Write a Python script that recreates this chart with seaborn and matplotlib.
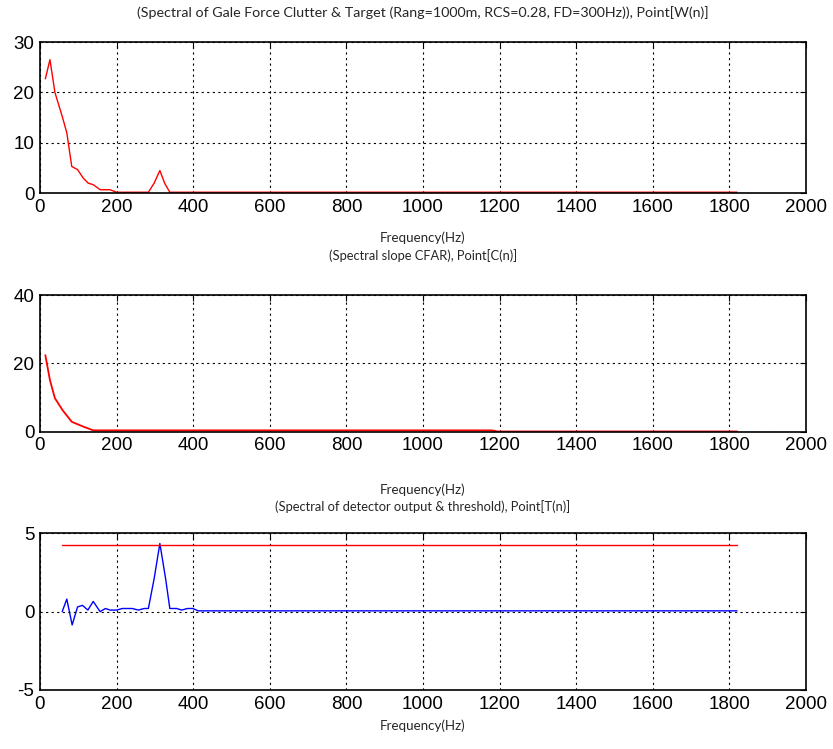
import numpy as np
import pandas as pd
import seaborn as sns
import matplotlib.pyplot as plt

# ---------------------------------------------------------------------------
# Dades llegides del gràfic
# ---------------------------------------------------------------------------
# Panell 1: espectre clutter + blanc W(n)
w_freq = [14, 26, 39, 59, 70, 83, 98, 113, 126, 139, 157, 183, 200, 283, 298, 313, 326, 339, 1820]
w_val = [22.7, 26.5, 20.0, 15.0, 12.0, 5.3, 4.7, 3.0, 2.0, 1.7, 0.7, 0.7, 0.2, 0.2, 2.0, 4.5, 1.9, 0.2, 0.2]

# Panell 2: CFAR de pendent espectral C(n)
c_freq = [14, 26, 39, 59, 83, 113, 139, 1180, 1195, 1820]
c_val = [22.4, 15.1, 9.8, 6.3, 2.9, 1.5, 0.4, 0.4, 0.08, 0.08]

# Panell 3: sortida del detector T(n) i llindar
t_freq = [58, 70, 84, 98, 111, 125, 139, 157, 171, 183, 200, 215, 241, 257, 272, 283,
          298, 313, 328, 339, 357, 370, 385, 399, 413, 1820]
t_val = [0.0, 0.8, -0.85, 0.3, 0.4, 0.1, 0.65, 0.0, 0.2, 0.1, 0.1, 0.2, 0.2, 0.1, 0.2, 0.2,
         2.1, 4.35, 2.1, 0.2, 0.2, 0.1, 0.2, 0.2, 0.05, 0.05]
thr_freq = [58, 1820]
thr_val = [4.26, 4.26]

titles = [
    "(Spectral of Gale Force Clutter & Target (Rang=1000m, RCS=0.28, FD=300Hz)), Point[W(n)]",
    "(Spectral slope CFAR), Point[C(n)]",
    "(Spectral of detector output & threshold), Point[T(n)]",
]
xlabel = "Frequency(Hz)"
x_ticks = [0, 200, 400, 600, 800, 1000, 1200, 1400, 1600, 1800, 2000]
y_ticks = [[0, 10, 20, 30], [0, 20, 40], [-5, 0, 5]]
y_lims = [(0, 30), (0, 40), (-5, 5)]

# ---------------------------------------------------------------------------
# Figura
# ---------------------------------------------------------------------------
sns.set_theme(style="white")
plt.rcParams['font.family'] = ['Liberation Sans', 'DejaVu Sans']
plt.rcParams['axes.unicode_minus'] = False

fig = plt.figure(figsize=(8.33, 7.49), dpi=100)
ax_pos = [
    [0.048, 0.742, 0.9196, 0.2019],
    [0.048, 0.4236, 0.9196, 0.1825],
    [0.048, 0.0788, 0.9196, 0.2092],
]
axes = [fig.add_axes(p) for p in ax_pos]

sns.lineplot(x=w_freq, y=w_val, ax=axes[0], color="#ff0000", lw=1.0)
sns.lineplot(x=c_freq, y=c_val, ax=axes[1], color="#ff0000", lw=1.3)
sns.lineplot(x=t_freq, y=t_val, ax=axes[2], color="#0000ff", lw=1.0)
sns.lineplot(x=thr_freq, y=thr_val, ax=axes[2], color="#ff0000", lw=1.0)

title_pads = [18, 25, 16]
title_sizes = [10.3, 9.3, 9.3]
label_pads = [11, 21, 5]
for i, ax in enumerate(axes):
    ax.set_xlim(0, 2000)
    ax.set_ylim(*y_lims[i])
    ax.set_xticks(x_ticks)
    ax.set_yticks(y_ticks[i])
    ax.tick_params(direction="in", length=4, width=0.8, labelsize=13.5,
                   colors="black", pad=4, top=True, right=True,
                   labeltop=False, labelright=False)
    ax.grid(True, color="black", linestyle=(0, (2, 3)), linewidth=0.8)
    for sp in ax.spines.values():
        sp.set_color("black")
        sp.set_linewidth(1.2)
    ax.set_xlabel(xlabel, fontsize=9.6, family=["Lato", "DejaVu Sans"], labelpad=label_pads[i])
    ax.set_title(titles[i], fontsize=title_sizes[i], family=["Lato", "DejaVu Sans"],
                 pad=title_pads[i])

fig.savefig("out.png", dpi=100, facecolor="white")
